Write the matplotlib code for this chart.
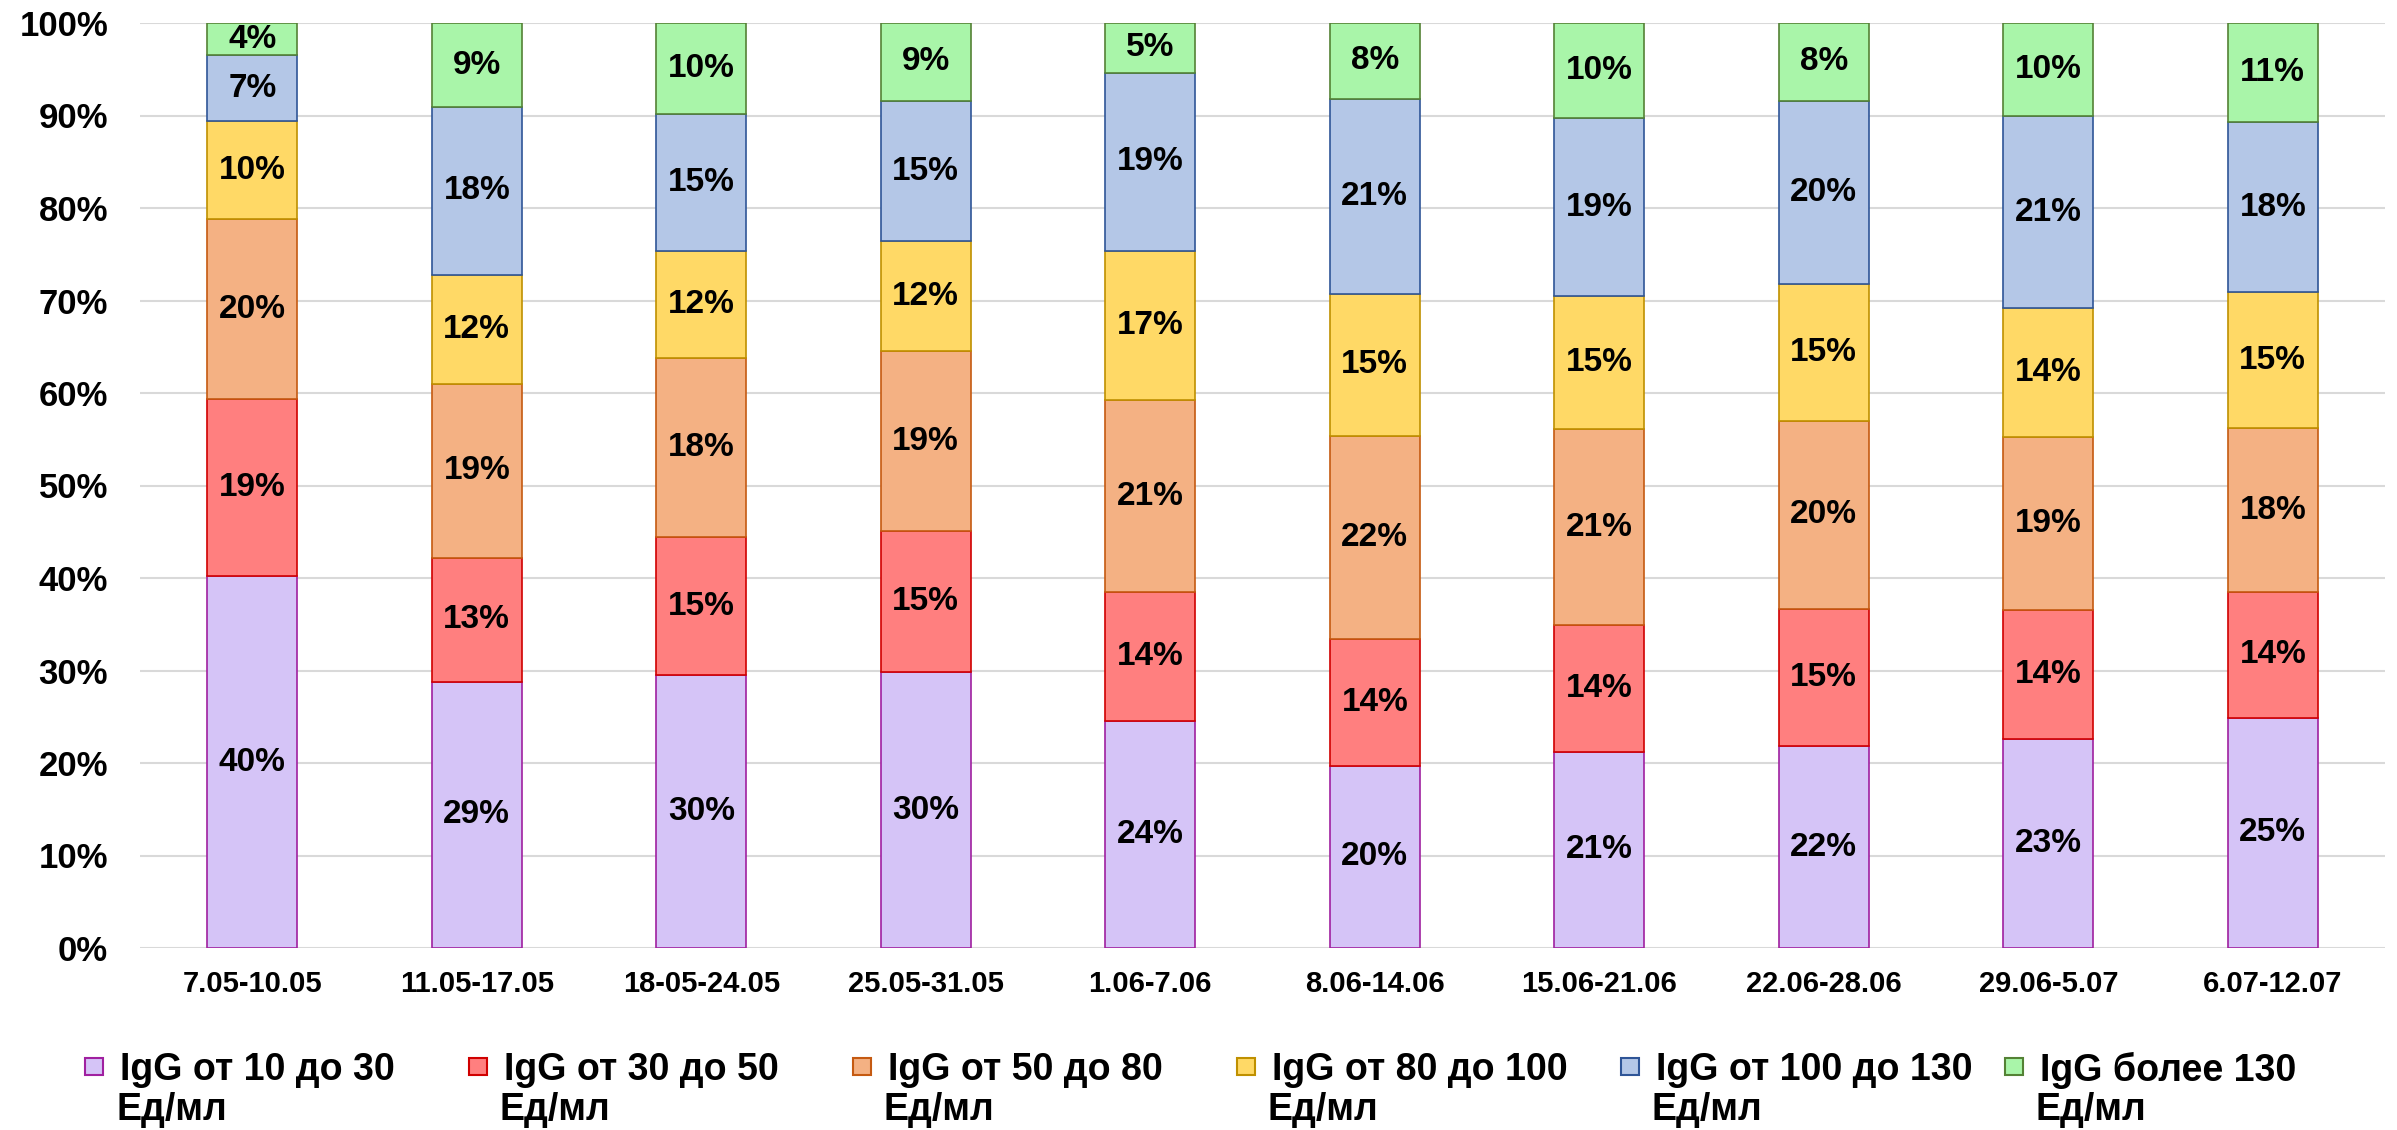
import matplotlib
matplotlib.use('Agg')
from matplotlib import pyplot as plt
from matplotlib.patches import Rectangle
import numpy as np

plt.rcParams['font.family'] = ['Liberation Sans', 'DejaVu Sans']
plt.rcParams['font.weight'] = 'bold'

periods = ['7.05-10.05', '11.05-17.05', '18-05-24.05', '25.05-31.05', '1.06-7.06',
           '8.06-14.06', '15.06-21.06', '22.06-28.06', '29.06-5.07', '6.07-12.07']

series_names = ['IgG от 10 до 30', 'IgG от 30 до 50', 'IgG от 50 до 80',
                'IgG от 80 до 100', 'IgG от 100 до 130', 'IgG более 130']

# доли (высота сегментов, %)
igg_10_30 = [40.2, 28.8, 29.5, 29.8, 24.5, 19.7, 21.2, 21.8, 22.6, 24.9]
igg_30_50 = [19.1, 13.4, 14.9, 15.3, 14.0, 13.7, 13.7, 14.9, 13.9, 13.6]
igg_50_80 = [19.5, 18.8, 19.4, 19.4, 20.7, 22.0, 21.2, 20.3, 18.7, 17.7]
igg_80_100 = [10.6, 11.8, 11.6, 11.9, 16.2, 15.3, 14.4, 14.8, 14.0, 14.7]
igg_100_130 = [7.1, 18.1, 14.8, 15.2, 19.2, 21.1, 19.2, 19.8, 20.7, 18.4]
igg_130 = [3.5, 9.1, 9.8, 8.4, 5.4, 8.2, 10.3, 8.4, 10.1, 10.7]

# подписи данных, как на исходной диаграмме
lab_10_30 = [40, 29, 30, 30, 24, 20, 21, 22, 23, 25]
lab_30_50 = [19, 13, 15, 15, 14, 14, 14, 15, 14, 14]
lab_50_80 = [20, 19, 18, 19, 21, 22, 21, 20, 19, 18]
lab_80_100 = [10, 12, 12, 12, 17, 15, 15, 15, 14, 15]
lab_100_130 = [7, 18, 15, 15, 19, 21, 19, 20, 21, 18]
lab_130 = [4, 9, 10, 9, 5, 8, 10, 8, 10, 11]

values = [igg_10_30, igg_30_50, igg_50_80, igg_80_100, igg_100_130, igg_130]
labels = [lab_10_30, lab_30_50, lab_50_80, lab_80_100, lab_100_130, lab_130]

fills = ['#D5C4F7', '#FF7F7F', '#F4B183', '#FFD966', '#B4C7E7', '#A9F5A9']
edges = ['#A020A0', '#D00000', '#C55A11', '#BF9000', '#2F5597', '#548235']

fig = plt.figure(figsize=(23.97, 11.30), dpi=100)
ax = fig.add_axes([140 / 2397, 1 - 948 / 1130, (2385 - 140) / 2397, (948 - 23) / 1130])

x = np.arange(len(periods))
bottom = np.zeros(len(periods))
for vals, labs, fc, ec in zip(values, labels, fills, edges):
    vals = np.array(vals)
    ax.bar(x, vals, 0.4, bottom=bottom, color=fc, edgecolor=ec, linewidth=1.2, zorder=3)
    for xi, b, v, lb in zip(x, bottom, vals, labs):
        ax.text(xi, b + v / 2, f'{lb}%', ha='center', va='center',
                fontsize=24, fontweight='bold', zorder=4)
    bottom += vals

ax.set_xlim(-0.5, 9.5)
ax.set_ylim(0, 100)
ax.set_yticks(range(0, 101, 10))
ax.set_yticklabels([f'{v}%' for v in range(0, 101, 10)], fontsize=25, fontweight='bold')
ax.set_xticks(x)
ax.set_xticklabels(periods, fontsize=21, fontweight='bold')
ax.tick_params(axis='both', length=0)
ax.tick_params(axis='y', pad=23)
ax.tick_params(axis='x', pad=16)
ax.grid(axis='y', color='#D9D9D9', linewidth=1.5, zorder=0)
for s in ax.spines.values():
    s.set_visible(False)

# легенда
W, H = 2397, 1130
for i, (name, fc, ec) in enumerate(zip(series_names, fills, edges)):
    cx = 94 + 384 * i
    fig.add_artist(Rectangle(((cx - 9) / W, 1 - 1075 / H), 18 / W, 17 / H,
                             transform=fig.transFigure, facecolor=fc, edgecolor=ec, linewidth=1.5))
    fig.text((cx + 26) / W, 1 - 1070 / H, name, fontsize=27, fontweight='bold', va='center', ha='left')
    fig.text((cx + 22) / W, 1 - 1110 / H, 'Ед/мл', fontsize=27, fontweight='bold', va='center', ha='left')

fig.savefig('out.png', dpi=100)
